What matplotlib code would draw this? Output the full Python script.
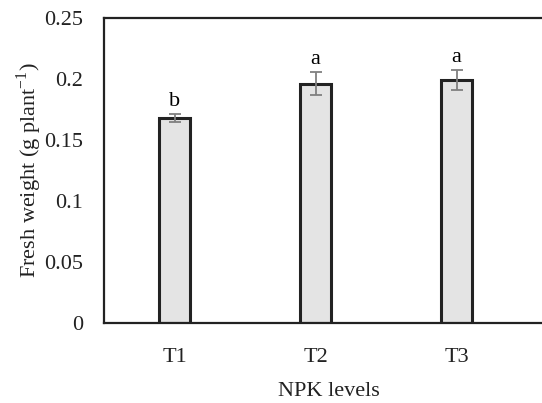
import matplotlib.pyplot as plt

treatments = ["T1", "T2", "T3"]
fresh_weight = [0.168, 0.196, 0.199]
std_err = [0.003, 0.0095, 0.008]
letters = ["b", "a", "a"]

plt.rcParams['font.family'] = ['Liberation Serif', 'DejaVu Serif']
plt.rcParams['mathtext.fontset'] = 'custom'
plt.rcParams['mathtext.rm'] = 'Liberation Serif'

fig = plt.figure(figsize=(5.42, 4.03), dpi=100)
# axes run past the right edge of the figure, like the reference
ax = fig.add_axes([104 / 542, 80 / 403, 450 / 542, 305 / 403])

x = list(range(len(treatments)))
ax.bar(x, fresh_weight, width=0.22, color='#e4e4e4', edgecolor='#222222',
       linewidth=2.2, zorder=2)
ax.errorbar(x, fresh_weight, yerr=std_err, fmt='none', ecolor='#808080',
            elinewidth=1.3, capsize=4, capthick=1.3, zorder=3)

for xi, v, e, lab in zip(x, fresh_weight, std_err, letters):
    ax.text(xi, v + e + 0.0025, lab, ha='center', va='bottom', fontsize=16)

ax.set_xlim(-0.5, 2.5 + 27 / 141)
ax.set_ylim(0, 0.25)
ax.set_yticks([0, 0.05, 0.1, 0.15, 0.2, 0.25])
ax.set_yticklabels(["0", "0.05", "0.1", "0.15", "0.2", "0.25"])
ax.set_xticks(x)
ax.set_xticklabels(treatments)
ax.tick_params(length=0, labelsize=16, colors='#222222')
ax.tick_params(axis='y', pad=15)
ax.tick_params(axis='x', pad=18)

for s in ax.spines.values():
    s.set_linewidth(1.6)
    s.set_color('#222222')

ax.set_ylabel("Fresh weight (g plant$^{\\mathrm{-1}}$)", fontsize=16, color='#222222', labelpad=0)
ax.set_xlabel("NPK levels", fontsize=16, color='#222222', labelpad=11)

fig.savefig("out.png", dpi=100)
